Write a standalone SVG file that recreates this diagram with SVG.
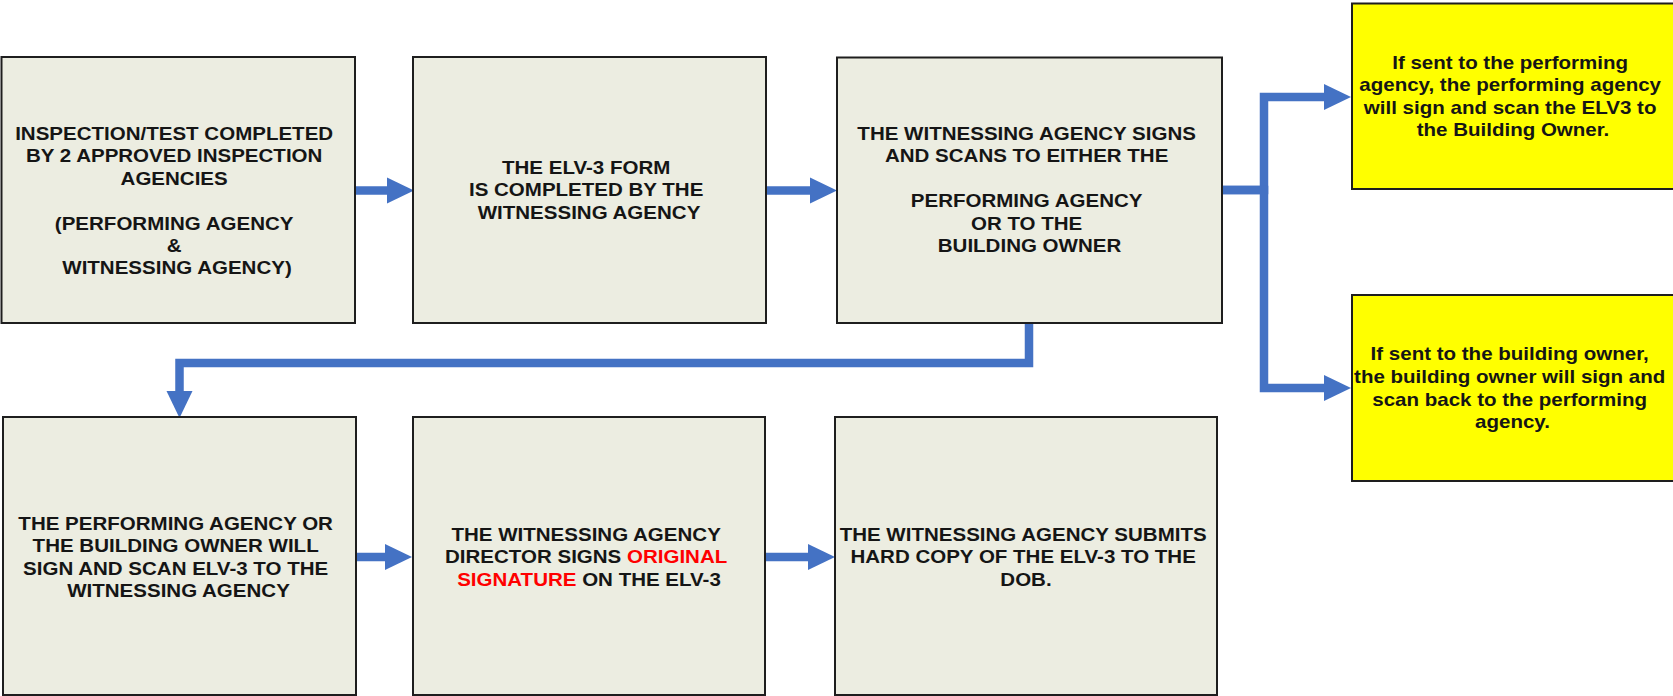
<svg xmlns="http://www.w3.org/2000/svg" width="1673" height="696" viewBox="0 0 1673 696">
<style>
.box{fill:#ECEDE1;stroke:#1e1e1e;stroke-width:2}
.ybox{fill:#FFFF00;stroke:#1e1e1e;stroke-width:2}
.t{font-family:"Liberation Sans",Arial,sans-serif;font-weight:bold;font-size:18px;fill:#151515;text-anchor:middle}
.red{fill:#FF0000}
.c{fill:none;stroke:#4472C4;stroke-width:8.5;stroke-linejoin:miter}
</style>
<defs>
<marker id="ah" markerUnits="userSpaceOnUse" viewBox="0 0 28 28" markerWidth="28" markerHeight="28" refX="0" refY="14" orient="auto">
<path d="M0,1 L27,14 L0,27 Z" fill="#4472C4"/>
</marker>
</defs>
<rect width="1673" height="696" fill="#FFFFFF"/>

<g id="connectors">
<path class="c" d="M350 190.5 H387" marker-end="url(#ah)"/>
<path class="c" d="M760 190.5 H810" marker-end="url(#ah)"/>
<path class="c" d="M1216 190 H1264 V97 H1324" stroke-linecap="round" marker-end="url(#ah)"/>
<path class="c" d="M1216 190 H1264 V388 H1324" stroke-linecap="round" marker-end="url(#ah)"/>
<path class="c" d="M1029 318 V363 H179.5 V391" marker-end="url(#ah)"/>
<path class="c" d="M350 557 H385" marker-end="url(#ah)"/>
<path class="c" d="M761 557 H808" stroke-linecap="round" marker-end="url(#ah)"/>
</g>

<g id="n1">
<rect class="box" x="1.5" y="57" width="353.5" height="266"/>
<text class="t" transform="translate(177 0) scale(1.14 1)">
<tspan x="0" y="140">INSPECTION/TEST COMPLETED</tspan>
<tspan x="0" y="162.4">BY 2 APPROVED INSPECTION</tspan>
<tspan x="0" y="184.8">AGENCIES</tspan>
<tspan x="0" y="229.6">(PERFORMING AGENCY</tspan>
<tspan x="0" y="252">&amp;</tspan>
<tspan x="0" y="274.4">WITNESSING AGENCY)</tspan>
</text>
</g>

<g id="n2">
<rect class="box" x="413" y="57" width="353" height="266"/>
<text class="t" transform="translate(589 0) scale(1.14 1)">
<tspan x="0" y="174">THE ELV-3 FORM</tspan>
<tspan x="0" y="196.4">IS COMPLETED BY THE</tspan>
<tspan x="0" y="218.8">WITNESSING AGENCY</tspan>
</text>
</g>

<g id="n3">
<rect class="box" x="837" y="57.5" width="385" height="265.5"/>
<text class="t" transform="translate(1029.5 0) scale(1.14 1)">
<tspan x="0" y="140">THE WITNESSING AGENCY SIGNS</tspan>
<tspan x="0" y="162.4">AND SCANS TO EITHER THE</tspan>
<tspan x="0" y="207.2">PERFORMING AGENCY</tspan>
<tspan x="0" y="229.6">OR TO THE</tspan>
<tspan x="0" y="252">BUILDING OWNER</tspan>
</text>
</g>

<g id="y1">
<rect class="ybox" x="1352" y="3.5" width="325" height="185.5"/>
<text class="t" transform="translate(1513 0) scale(1.14 1)">
<tspan x="0" y="68.8">If sent to the performing</tspan>
<tspan x="0" y="91.3">agency, the performing agency</tspan>
<tspan x="0" y="113.8">will sign and scan the ELV3 to</tspan>
<tspan x="0" y="136.3">the Building Owner.</tspan>
</text>
</g>

<g id="y2">
<rect class="ybox" x="1352" y="295" width="325" height="186"/>
<text class="t" transform="translate(1512.5 0) scale(1.14 1)">
<tspan x="0" y="360.5">If sent to the building owner,</tspan>
<tspan x="0" y="383">the building owner will sign and</tspan>
<tspan x="0" y="405.5">scan back to the performing</tspan>
<tspan x="0" y="428">agency.</tspan>
</text>
</g>

<g id="n4">
<rect class="box" x="3" y="417" width="353" height="278"/>
<text class="t" transform="translate(178.5 0) scale(1.14 1)">
<tspan x="0" y="530">THE PERFORMING AGENCY OR</tspan>
<tspan x="0" y="552.4">THE BUILDING OWNER WILL</tspan>
<tspan x="0" y="574.8">SIGN AND SCAN ELV-3 TO THE</tspan>
<tspan x="0" y="597.2">WITNESSING AGENCY</tspan>
</text>
</g>

<g id="n5">
<rect class="box" x="413" y="417" width="352" height="278"/>
<text class="t" transform="translate(589 0) scale(1.14 1)">
<tspan x="0" y="541">THE WITNESSING AGENCY</tspan>
<tspan x="0" y="563.4">DIRECTOR SIGNS <tspan class="red">ORIGINAL</tspan></tspan>
<tspan x="0" y="585.8"><tspan class="red">SIGNATURE</tspan> ON THE ELV-3</tspan>
</text>
</g>

<g id="n6">
<rect class="box" x="835" y="417" width="382" height="278"/>
<text class="t" transform="translate(1026 0) scale(1.14 1)">
<tspan x="0" y="541">THE WITNESSING AGENCY SUBMITS</tspan>
<tspan x="0" y="563.4">HARD COPY OF THE ELV-3 TO THE</tspan>
<tspan x="0" y="585.8">DOB.</tspan>
</text>
</g>
</svg>
